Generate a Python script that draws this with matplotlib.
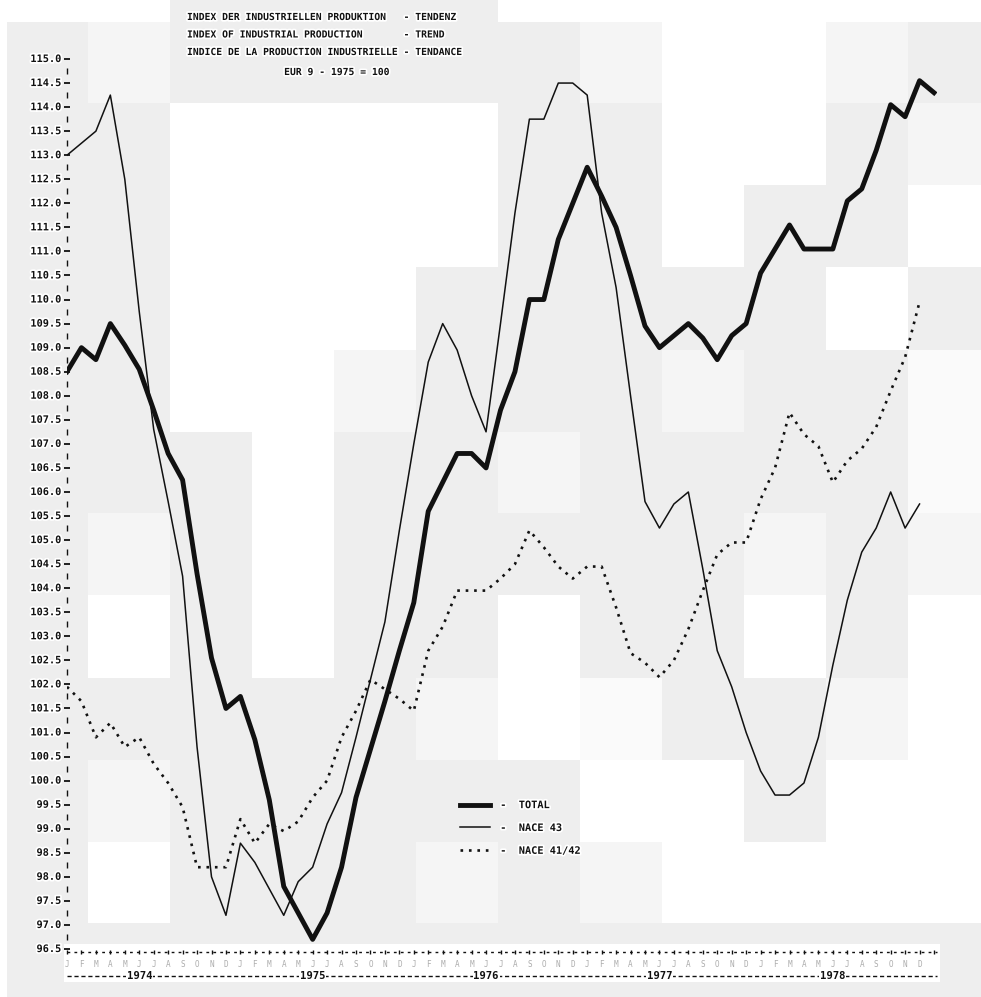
import numpy as np
import matplotlib
matplotlib.use("Agg")
import matplotlib.pyplot as plt
import matplotlib.transforms as mtransforms
import matplotlib.patheffects as pe

W, H = 981, 997

# monthly trend values, Jan 1974 = month 0
total = [108.5, 109.0, 108.75, 109.5, 109.05, 108.55, 107.7, 106.8, 106.25, 104.3,
         102.55, 101.5, 101.75, 100.85, 99.6, 97.8, 97.25, 96.7, 97.25, 98.2,
         99.65, 100.65, 101.65, 102.7, 103.7, 105.6, 106.2, 106.8, 106.8, 106.5,
         107.7, 108.5, 110.0, 110.0, 111.25, 112.0, 112.75, 112.15, 111.5, 110.5,
         109.45, 109.0, 109.25, 109.5, 109.2, 108.75, 109.25, 109.5, 110.55, 111.05,
         111.55, 111.05, 111.05, 111.05, 112.05, 112.3, 113.1, 114.05, 113.8, 114.55, 114.3]

nace43 = [113.0, 113.25, 113.5, 114.25, 112.5, 109.75, 107.3, 105.8, 104.25, 100.7,
          98.0, 97.2, 98.7, 98.3, 97.75, 97.2, 97.9, 98.2, 99.1, 99.75,
          100.9, 102.1, 103.3, 105.2, 107.0, 108.7, 109.5, 108.95, 108.0, 107.25,
          109.5, 111.8, 113.75, 113.75, 114.5, 114.5, 114.25, 111.8, 110.25, 108.0,
          105.8, 105.25, 105.75, 106.0, 104.4, 102.7, 101.95, 101.0, 100.2, 99.7,
          99.7, 99.95, 100.9, 102.4, 103.75, 104.75, 105.25, 106.0, 105.25, 105.75]

nace4142 = [101.95, 101.65, 100.9, 101.2, 100.7, 100.9, 100.35, 99.95, 99.45, 98.2,
            98.2, 98.2, 99.2, 98.7, 99.1, 98.95, 99.15, 99.65, 100.0, 100.9,
            101.45, 102.1, 101.9, 101.7, 101.45, 102.7, 103.2, 103.95, 103.95, 103.95,
            104.2, 104.5, 105.2, 104.85, 104.45, 104.2, 104.45, 104.45, 103.6, 102.65,
            102.45, 102.15, 102.5, 103.15, 103.95, 104.7, 104.95, 104.95, 105.85, 106.5,
            107.65, 107.2, 106.95, 106.2, 106.65, 106.9, 107.35, 108.1, 108.8, 109.95]

years = ["1974", "1975", "1976", "1977", "1978"]
month_letters = list("JFMAMJJASOND")
y_ticks = np.arange(96.5, 115.01, 0.5)

title_lines = ["INDEX DER INDUSTRIELLEN PRODUKTION   - TENDENZ",
               "INDEX OF INDUSTRIAL PRODUCTION       - TREND",
               "INDICE DE LA PRODUCTION INDUSTRIELLE - TENDANCE"]
base_line = "EUR 9 - 1975 = 100"
legend_labels = ["-  TOTAL", "-  NACE 43", "-  NACE 41/42"]

# scanned background blocks (W white, G grey, L light, V very light)
col_edges = [0, 7, 88, 170, 252, 334, 416, 498, 580, 662, 744, 826, 908, 981]
row_edges = [0, 22, 103, 185, 267, 350, 432, 513, 595, 678, 760, 842, 923, 997]
shade_rows = ["WWWGGGGWWWWWW",
              "WGLGGGGGLWWLG",
              "WGGWWWWGGWWGL",
              "WGGWWWWGGWGGW",
              "WGGWWWGGGGGWG",
              "WGGWWLGGGLGGV",
              "WGGGWGGLGGGGV",
              "WGLGWGGGGGLGL",
              "WGWGWGGWGGWGW",
              "WGGGGGLWVGGLW",
              "WGLGGGGGWWGWW",
              "WGWGGGLGLWWWW",
              "WGGGGGGGGGGGG"]
shade_val = {"W": 255, "G": 238, "L": 245, "V": 250}
shade = np.array([[shade_val[c] for c in r] for r in shade_rows])

mono = ["DejaVu Sans Mono"]
halo = [pe.withStroke(linewidth=2.5, foreground="white")]
ink = "#111111"

fig = plt.figure(figsize=(W / 100, H / 100), dpi=100)
bg = fig.add_axes([0, 0, 1, 1])
bg.pcolormesh(col_edges, row_edges, shade, cmap="gray", vmin=0, vmax=255, shading="flat")
bg.set_xlim(0, W)
bg.set_ylim(H, 0)
bg.axis("off")

# white strip behind the printed time axis
bg.add_patch(plt.Rectangle((64, 944), 876, 38, color="white", lw=0))

px_per_month = 14.45
ax = fig.add_axes([67 / W, 1 - 949 / H, 870 / W, 890 / H])
ax.set_xlim(0, 870 / px_per_month)
ax.set_ylim(96.5, 115)
ax.axis("off")

m_total = np.arange(len(total))
m_sub = np.arange(len(nace43))
l1, = ax.plot(m_total, total, color=ink, lw=3.5, solid_joinstyle="round")
l2, = ax.plot(m_sub, nace43, color=ink, lw=1.1)
l3, = ax.plot(m_sub, nace4142, color=ink, lw=1.9, ls=(0, (1, 2.2)), dash_capstyle="butt")

# y axis, typewriter style
ypix = mtransforms.blended_transform_factory(bg.transData, ax.transData)
for v in y_ticks:
    ax.text(61, v, f"{v:.1f}", transform=ypix, ha="right", va="center",
            family=mono, weight="bold", fontsize=7.4, color=ink, path_effects=halo)
ax.plot(np.zeros(len(y_ticks)), y_ticks, ls="none", marker="_", ms=4, mew=1.3,
        color=ink, clip_on=False)
ax.plot(np.zeros(len(y_ticks) - 1), y_ticks[:-1] + 0.25, ls="none", marker="|", ms=4,
        mew=1.0, color=ink, clip_on=False)

# x axis rows
xpix = mtransforms.blended_transform_factory(ax.transData, bg.transData)
ax.plot([0, len(total) - 0.8], [952, 952], transform=xpix, color=ink, lw=1.0,
        ls=(0, (2, 3)), clip_on=False)
ax.plot(m_total, np.full(len(total), 952), transform=xpix, ls="none", marker="|",
        ms=3, mew=1.0, color=ink, clip_on=False)
for m in m_total[:-1]:
    ax.text(m, 964, month_letters[m % 12], transform=xpix, ha="center", va="center",
            family=mono, fontsize=5.5, color="#adadad")
ax.plot([0, len(total) - 0.8], [976, 976], transform=xpix, color=ink, lw=1.0,
        ls=(0, (3, 2)), clip_on=False)
for k, yr in enumerate(years):
    ax.text(12 * k + 5, 976, yr, transform=xpix, ha="center", va="center",
            family=mono, weight="bold", fontsize=7.6, color=ink,
            bbox=dict(facecolor="white", edgecolor="none", pad=0.5))

# title block
for j, line in enumerate(title_lines):
    bg.text(187, 17 + j * 17.5, line, ha="left", va="center", family=mono,
            weight="bold", fontsize=7.0, color=ink, path_effects=halo)
bg.text(337, 72, base_line, ha="center", va="center", family=mono, weight="bold",
        fontsize=7.0, color=ink, path_effects=halo)

leg = ax.legend([l1, l2, l3], legend_labels, loc="upper left",
                bbox_to_anchor=(455, 795), bbox_transform=bg.transData,
                frameon=False, handlelength=2.9, handletextpad=1.0,
                labelspacing=1.25, borderpad=0,
                prop={"family": mono, "weight": "bold", "size": 7.4})
for t in leg.get_texts():
    t.set_color(ink)
    t.set_path_effects(halo)

fig.savefig("out.png", dpi=100)
